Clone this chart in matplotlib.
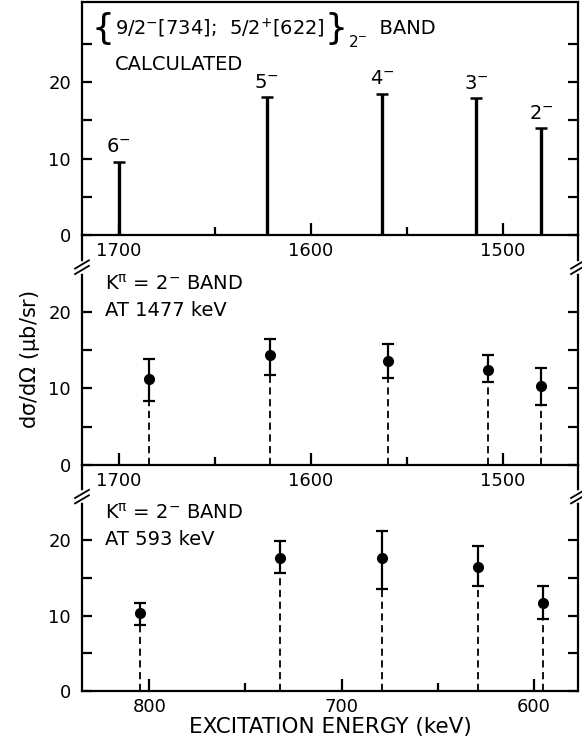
import matplotlib
matplotlib.use("Agg")
import matplotlib.pyplot as plt
from matplotlib.ticker import FixedLocator

plt.rcParams["font.family"] = ["DejaVu Sans"]
plt.rcParams["mathtext.default"] = "regular"

# calculated band (top panel)
calc_energy = [1700, 1623, 1563, 1514, 1480]
calc_xsec = [9.6, 18.0, 18.5, 17.9, 14.0]
calc_spin = ["6", "5", "4", "3", "2"]

# K=2- band at 1477 keV (middle panel)
mid_energy = [1684, 1621, 1560, 1508, 1480]
mid_xsec = [11.2, 14.3, 13.6, 12.4, 10.3]
mid_err_lo = [2.9, 2.6, 2.2, 1.6, 2.5]
mid_err_hi = [2.6, 2.2, 2.2, 1.9, 2.3]

# K=2- band at 593 keV (bottom panel)
low_energy = [805, 732, 679, 629, 595]
low_xsec = [10.3, 17.7, 17.7, 16.5, 11.7]
low_err_lo = [1.6, 2.0, 4.1, 2.6, 2.1]
low_err_hi = [1.4, 2.2, 3.6, 2.7, 2.3]

fig = plt.figure(figsize=(5.82, 7.44), dpi=100)
left, width = 82 / 582, 496 / 582
ax_top = fig.add_axes([left, 1 - 235 / 744, width, 233 / 744])
ax_mid = fig.add_axes([left, 1 - 465 / 744, width, 230 / 744])
ax_low = fig.add_axes([left, 1 - 691 / 744, width, 226 / 744])

lw = 1.6
for ax in (ax_top, ax_mid, ax_low):
    for s in ax.spines.values():
        s.set_linewidth(lw)
    ax.set_ylim(0, 30.5)
    ax.yaxis.set_major_locator(FixedLocator([0, 10, 20]))
    ax.tick_params(axis="y", which="both", direction="in", left=True, right=True,
                   length=7, width=lw, labelsize=13, pad=8)
    ax.tick_params(axis="x", which="major", direction="in", length=9, width=lw,
                   labelsize=13, pad=5)
    ax.tick_params(axis="x", which="minor", direction="in", length=6, width=lw)
    ax.patch.set_alpha(0)

for ax in (ax_mid, ax_low):
    ax.spines["top"].set_visible(False)
    ax.set_ylim(0, 30.0)
    ax.yaxis.set_minor_locator(FixedLocator([5, 15]))
ax_top.yaxis.set_minor_locator(FixedLocator([5, 15, 25]))

for ax in (ax_top, ax_mid):
    ax.set_xlim(1719, 1461)
    ax.xaxis.set_major_locator(FixedLocator([1700, 1600, 1500]))
    ax.xaxis.set_minor_locator(FixedLocator([1650, 1550]))
ax_low.set_xlim(835, 577)
ax_low.xaxis.set_major_locator(FixedLocator([800, 700, 600]))
ax_low.xaxis.set_minor_locator(FixedLocator([750, 650]))

# top: calculated stick spectrum
ax_top.vlines(calc_energy, 0, calc_xsec, color="black", lw=2.4)
ax_top.plot(calc_energy, calc_xsec, ls="none", marker="_", ms=9, mew=1.8, color="black")
for e, v, s in zip(calc_energy, calc_xsec, calc_spin):
    ax_top.text(e, v + 0.7, s + "$^{-}$", ha="center", va="bottom", fontsize=14)

t1 = ax_top.text(0.02, 0.885, "{", transform=ax_top.transAxes, fontsize=26,
                 va="center")
t2 = ax_top.annotate("9/2$^{-}$[734];  5/2$^{+}$[622]", xy=(1, 0.5),
                     xycoords=t1, va="center", ha="left", fontsize=14)
t3 = ax_top.annotate("}", xy=(1, 0.5), xycoords=(t2, t1), va="center",
                     ha="left", fontsize=26)
t4 = ax_top.annotate("2$^{-}$", xy=(1, 0.12), xycoords=t3, va="center",
                     ha="left", fontsize=11)
ax_top.annotate("  BAND", xy=(1, 0.5), xycoords=(t4, t2), va="center",
                ha="left", fontsize=14)
ax_top.text(0.066, 0.73, "CALCULATED", transform=ax_top.transAxes,
            fontsize=14, va="center")

# measured panels
for ax, xs, ys, lo, hi, lab in (
    (ax_mid, mid_energy, mid_xsec, mid_err_lo, mid_err_hi, "AT 1477 keV"),
    (ax_low, low_energy, low_xsec, low_err_lo, low_err_hi, "AT 593 keV"),
):
    ax.errorbar(xs, ys, yerr=[lo, hi], fmt="o", color="black", ms=7,
                elinewidth=1.6, capsize=4.5, capthick=1.6)
    ax.vlines(xs, 0, [y - e for y, e in zip(ys, lo)], color="black",
              lw=1.3, linestyles=(0, (4, 2.5)))
    ax.text(0.046, 0.79, r"K$^{\pi}$ = 2$^{-}$ BAND", transform=ax.transAxes,
            fontsize=14, va="center")
    ax.text(0.046, 0.67, lab, transform=ax.transAxes, fontsize=14, va="center")

    # axis break marks on both side spines
    for xa in (0.0, 1.0):
        ax.plot([xa, xa], [0.845, 0.875], transform=ax.transAxes, color="white",
                lw=4, clip_on=False, zorder=5)
        for yc in (0.848, 0.872):
            ax.plot([xa - 0.014, xa + 0.014], [yc - 0.018, yc + 0.018],
                    transform=ax.transAxes, color="black", lw=1.3,
                    clip_on=False, zorder=6)

fig.text(0.052, 1 - 360 / 744, r"d$\sigma$/d$\Omega$ ($\mu$b/sr)", rotation=90,
         ha="center", va="center", fontsize=15)
fig.text(0.567, 1 - 727 / 744, "EXCITATION ENERGY (keV)", ha="center",
         va="center", fontsize=15.5)

fig.savefig("out.png", dpi=100)
